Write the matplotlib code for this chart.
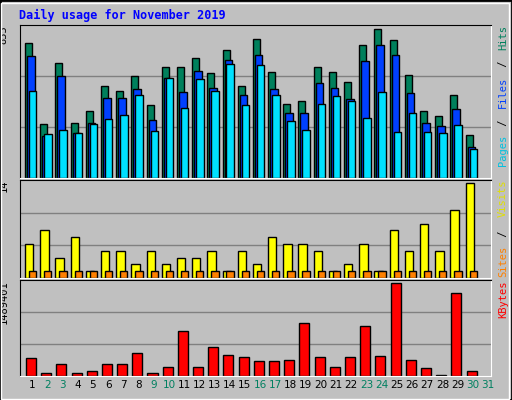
import numpy as np
import matplotlib
matplotlib.use('Agg')
from matplotlib import pyplot as plt
from matplotlib.patches import Rectangle

days = list(range(1, 32))
weekend = [2, 3, 9, 10, 16, 17, 23, 24, 30, 31]

hits = [757, 303, 649, 308, 376, 518, 490, 575, 410, 626, 626, 677, 592, 723, 518,
        785, 598, 416, 433, 626, 598, 541, 751, 836, 774, 581, 376, 348, 467, 240]
files = [689, 235, 575, 252, 308, 450, 450, 501, 325, 564, 484, 603, 507, 666, 467,
         694, 501, 365, 365, 535, 507, 445, 660, 751, 694, 479, 308, 291, 388, 172]
pages = [490, 246, 269, 252, 303, 331, 354, 467, 263, 564, 393, 558, 490, 643, 410,
         637, 467, 320, 269, 416, 462, 433, 337, 484, 257, 365, 257, 252, 297, 161]
visits = [5, 7, 3, 6, 1, 4, 4, 2, 4, 2, 3, 3, 4, 1, 4,
          2, 6, 5, 5, 4, 1, 2, 5, 1, 7, 4, 8, 4, 10, 14]
sites = [1] * 30
kbytes = [288000, 54000, 185000, 54000, 87000, 185000, 185000, 364000, 54000, 136000,
          723000, 136000, 462000, 332000, 299000, 234000, 234000, 250000, 853000, 299000,
          136000, 299000, 804000, 315000, 1489401, 250000, 120000, 22000, 1326000, 87000]

bg = '#c0c0c0'
fig = plt.figure(figsize=(5.12, 4.0), dpi=100, facecolor=bg)
W, H = 512, 400

# outer bevel frame
fig.patches.append(Rectangle((0, 0), 1, 1, transform=fig.transFigure, fill=False,
                             edgecolor='black', lw=2))
fig.patches.append(Rectangle((1/W, 1/H), 1 - 4/W, 1 - 4/H, transform=fig.transFigure,
                             fill=False, edgecolor='white', lw=1))

def panel(top, bottom):
    ax = fig.add_axes([20/W, 1 - bottom/H, 471/W, (bottom - top)/H])
    ax.set_facecolor(bg)
    ax.set_xlim(0, 31)
    ax.set_xticks([])
    ax.set_yticks([])
    for s in ax.spines.values():
        s.set_color('black')
    ax.spines['right'].set_color('white')
    ax.spines['bottom'].set_color('white')
    return ax

x = np.arange(30)
edge = dict(edgecolor='black', linewidth=1, align='edge')

ax1 = panel(25, 178)
top1 = max(hits) * 1.03
ax1.set_ylim(0, top1)
for g in (top1 / 3, 2 * top1 / 3):
    ax1.axhline(g, color='#808080', lw=1, zorder=0)
ax1.bar(x + 0.33, hits, 0.46, color='#00805c', **edge)
ax1.bar(x + 0.46, files, 0.5, color='#0040ff', **edge)
ax1.bar(x + 0.59, pages, 0.49, color='#00e0ff', **edge)

ax2 = panel(180, 278)
top2 = max(visits) * 1.03
ax2.set_ylim(0, top2)
for g in (top2 / 3, 2 * top2 / 3):
    ax2.axhline(g, color='#808080', lw=1, zorder=0)
ax2.bar(x + 0.33, visits, 0.55, color='#ffff00', **edge)
ax2.bar(x + 0.59, sites, 0.48, color='#ff8000', **edge)

ax3 = panel(280, 376)
top3 = max(kbytes) * 1.03
ax3.set_ylim(0, top3)
for g in (top3 / 3, 2 * top3 / 3):
    ax3.axhline(g, color='#808080', lw=1, zorder=0)
ax3.bar(x + 0.39, kbytes, 0.66, color='#ff0000', **edge)

mono = 'DejaVu Sans Mono'
fig.text(19/W, 1 - 15/H, 'Daily usage for November 2019', color='#0000ff',
         family=mono, weight='bold', fontsize=8.5, va='center')

for ax, lab in ((ax1, '855'), (ax2, '14'), (ax3, '1489401')):
    ax.text(-0.035, 1.0, lab, transform=ax.transAxes, rotation=90, ha='center',
            va='top', family=mono, fontsize=7.5)

def side(ax, parts):
    y = 1.0
    for txt, col in parts:
        t = ax.text(1.025, y, txt, transform=ax.transAxes, rotation=90, ha='center',
                    va='top', family=mono, fontsize=7.5, color=col)
        y -= len(txt) * 0.048 * (153 / (ax.get_position().height * H))

side(ax1, [('Hits', '#00805c'), (' / ', 'black'), ('Files', '#0040ff'),
           (' / ', 'black'), ('Pages', '#00c0e0')][::-1][::-1])
side(ax2, [('Visits', '#e0e000'), (' / ', 'black'), ('Sites', '#ff8000')])
side(ax3, [('KBytes', '#ff0000')])

for d in days:
    col = '#008060' if d in weekend else 'black'
    ax3.text(d - 1 + 0.8, -0.09, str(d), transform=ax3.get_xaxis_transform(),
             ha='center', va='center', fontsize=7.5, color=col)

fig.savefig('out.png', dpi=100, facecolor=bg)
